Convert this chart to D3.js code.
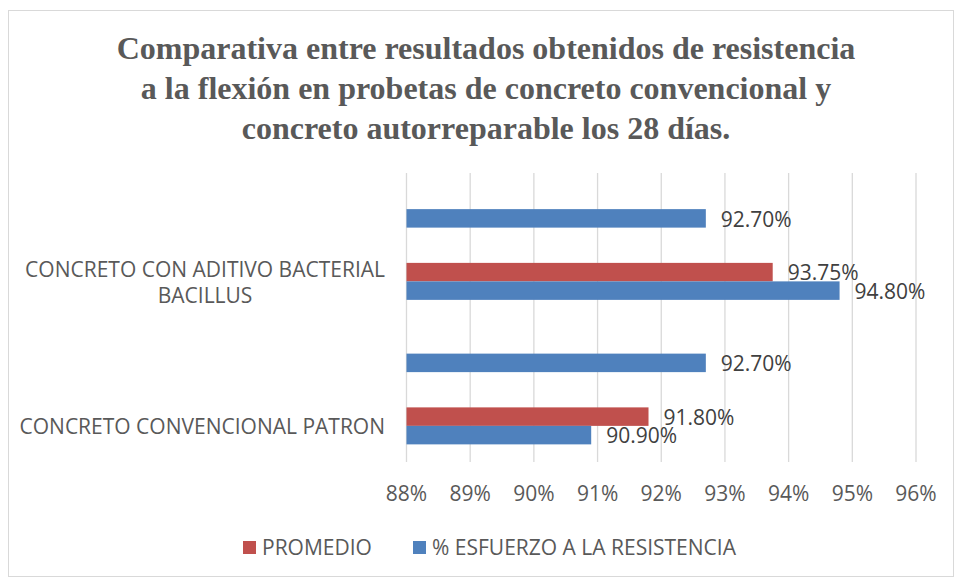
<!DOCTYPE html>
<html><head><meta charset="utf-8">
<script src="https://cdn.jsdelivr.net/npm/d3@7"></script>
<style>body{margin:0;background:#fff}svg{display:block}</style>
</head><body>
<script>
const titleLines = ["Comparativa entre resultados obtenidos de resistencia","a la flexión en probetas de concreto convencional y","concreto autorreparable los 28 días."];
const categories = ["slot0","CONCRETO CON ADITIVO BACTERIAL|BACILLUS","slot2","CONCRETO CONVENCIONAL PATRON"];
const showLabel = [false,true,false,true];
const seriesNames = ["PROMEDIO","% ESFUERZO A LA RESISTENCIA"];
const promedio = [null, 93.75, null, 91.80];
const esfuerzo = [92.70, 94.80, 92.70, 90.90];
const xTicks = [88,89,90,91,92,93,94,95,96];

(function(){
const W=955,H=578;
const colors={"PROMEDIO":"#C0504D","% ESFUERZO A LA RESISTENCIA":"#4F81BD"};
const textColor="#595959";
const sans="'Open Sans', Lato, sans-serif";
const fs=21;
const svg=d3.select("body").append("svg").attr("width",W).attr("height",H);
svg.append("rect").attr("x",8.5).attr("y",10.5).attr("width",945).attr("height",566).attr("fill","#fff").attr("stroke","#D9D9D9");

svg.append("g").selectAll("text").data(titleLines).join("text")
  .attr("x",486).attr("y",(d,i)=>59+i*40).attr("text-anchor","middle")
  .attr("font-family","'Liberation Serif','Times New Roman',serif").attr("font-weight","bold")
  .attr("font-size",32).attr("fill",textColor).text(d=>d);

const pl=406.5, pr=916, pt=173, pb=462;
const x=d3.scaleLinear().domain([88,96]).range([pl,pr]);
const y=d3.scaleBand().domain(categories).range([pt,pb]).paddingInner(0.488).paddingOuter(0.244);
const inner=d3.scaleBand().domain(seriesNames).range([0,y.bandwidth()]);

svg.append("g").selectAll("line").data(xTicks).join("line")
  .attr("x1",d=>x(d)).attr("x2",d=>x(d)).attr("y1",pt).attr("y2",pb)
  .attr("stroke","#D9D9D9").attr("stroke-width",1.3);

const rows=categories.map((c,i)=>({cat:c,vals:[{s:seriesNames[0],v:promedio[i]},{s:seriesNames[1],v:esfuerzo[i]}]}));
const g=svg.append("g");
rows.forEach(r=>{
  r.vals.filter(d=>d.v!=null).forEach(d=>{
    const yy=y(r.cat)+inner(d.s);
    g.append("rect").attr("x",x(88)).attr("y",yy).attr("width",x(d.v)-x(88)).attr("height",inner.bandwidth())
      .attr("fill",colors[d.s]);
    g.append("text").attr("x",x(d.v)+15).attr("y",yy+inner.bandwidth()/2+1).attr("dy","0.35em")
      .attr("font-family",sans).attr("font-size",fs).attr("fill","#404040").text(d.v.toFixed(2)+"%");
  });
});

categories.forEach((c,i)=>{
  if(!showLabel[i]) return;
  const lines=c.split("|");
  const cy=y(c)+y.bandwidth()/2+1;
  const grp=svg.append("g");
  const ts=lines.map((l,j)=>grp.append("text").attr("font-family",sans).attr("font-size",fs)
    .attr("fill",textColor).attr("text-anchor","middle")
    .attr("y",cy+(j-(lines.length-1)/2)*26).attr("dy","0.35em").text(l));
  const maxW=d3.max(ts,t=>t.node().getComputedTextLength());
  ts.forEach(t=>t.attr("x",385-maxW/2));
});

svg.append("g").selectAll("text").data(xTicks).join("text")
  .attr("x",d=>x(d)).attr("y",494).attr("dy","0.35em").attr("text-anchor","middle")
  .attr("font-family",sans).attr("font-size",fs).attr("fill",textColor).text(d=>d+"%");

const leg=[{s:seriesNames[0],x:243},{s:seriesNames[1],x:413}];
leg.forEach(l=>{
  svg.append("rect").attr("x",l.x).attr("y",541).attr("width",13).attr("height",13).attr("fill",colors[l.s]);
  svg.append("text").attr("x",l.x+19).attr("y",548).attr("dy","0.35em").attr("font-family",sans)
    .attr("font-size",fs).attr("fill",textColor).text(l.s);
});
})();
</script>
</body></html>
